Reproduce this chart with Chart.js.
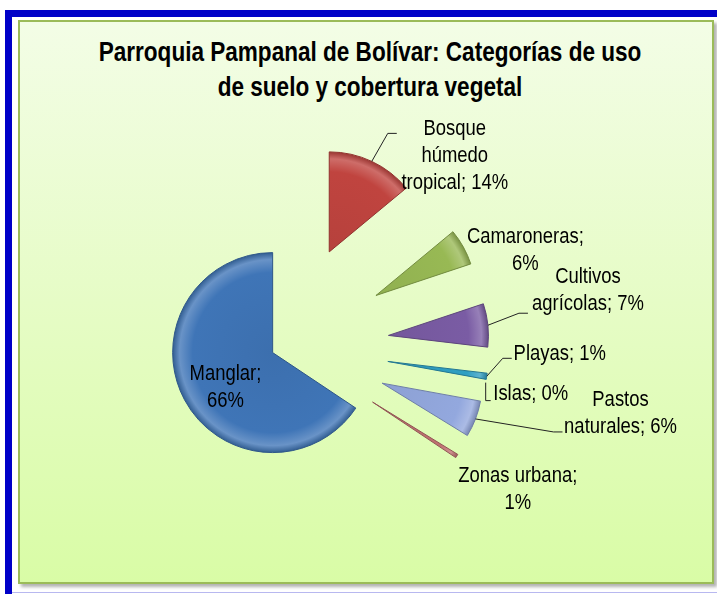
<!DOCTYPE html>
<html>
<head>
<meta charset="utf-8">
<script src="https://cdn.jsdelivr.net/npm/chart.js@4.4.0/dist/chart.umd.min.js"></script>
<style>
  html, body { margin: 0; padding: 0; background: #fff; }
  body { width: 717px; height: 594px; position: relative; overflow: hidden; }
  .blue-top { position: absolute; left: 5px; top: 10px; width: 712px; height: 7px; background: #0000c8; }
  .blue-left { position: absolute; left: 5px; top: 10px; width: 7px; height: 584px; background: #0000c8; }
  .lav-bottom { position: absolute; left: 12px; top: 592px; width: 705px; height: 1px; background: #b8b8f0; }
  .panel {
    position: absolute; left: 18px; top: 20px; width: 692px; height: 560px;
    border: 2px solid #9bbb59;
    background: linear-gradient(to bottom, #f3fde6 0%, #e6fcc6 50%, #d9fca6 100%);
    box-shadow: 3px 3px 3px rgba(0,0,0,0.3);
  }
  .title {
    position: absolute; left: 22px; top: 34px; width: 696px;
    text-align: center; font: bold 27.5px "Liberation Sans", Arial, sans-serif;
    line-height: 35px; color: #000;
    transform: scaleX(0.82); transform-origin: 50% 50%;
  }
  canvas { position: absolute; left: 0; top: 0; }
</style>
</head>
<body>
<div class="blue-top"></div>
<div class="blue-left"></div>
<div class="lav-bottom"></div>
<div class="panel"></div>
<div class="title">Parroquia Pampanal de Bolívar: Categorías de uso<br>de suelo y cobertura vegetal</div>
<canvas id="chart" width="717" height="594"></canvas>
<script>
// land use categories, clockwise from 12 o'clock
const categories = ["Bosque húmedo tropical", "Camaroneras", "Cultivos agrícolas", "Playas", "Islas", "Pastos naturales", "Zonas urbana", "Manglar"];
const shares = [14, 5.9, 7, 1, 0, 5.9, 0.6, 65.7];

const colors = ["#c0443f", "#98b954", "#7a5ca4", "#2f9fc2", "#f79646", "#93a8de", "#c07070", "#3f75b7"];
const explode = [104, 104, 104, 104, 104, 104, 104, 14];

// label placement: shift from the slice's outer mid point, wrap width
const labelShift = [[83, -6], [62, 3], [100, -35], [73, -23], [45, 11], [145, -6], [61, 33], [41, -12]];
const wrapWidth = [118, 122, 122, 200, 200, 122, 130, 85];
// leader lines: end point relative to label centre, elbow direction
const leaders = [
  { end: [-58, -22], elbow: "h" },
  null,
  { end: [-60, 23], elbow: "h" },
  { end: [-48, 5], elbow: "h" },
  { end: [-40, 7], elbow: "v" },
  { end: [-58, 19], elbow: "h" },
  null,
  null
];

// Arial Narrow look: regular face squeezed horizontally
const labelFont = '22.5px "Liberation Sans", Arial, sans-serif';
const narrow = 0.82;
const lineHeight = 27;
const total = shares.reduce((a, b) => a + b, 0);

function shade(hex, amt) {
  const n = parseInt(hex.slice(1), 16);
  let r = n >> 16, g = (n >> 8) & 255, b = n & 255;
  const f = c => amt >= 0 ? Math.round(c + (255 - c) * amt) : Math.round(c * (1 + amt));
  return `rgb(${f(r)},${f(g)},${f(b)})`;
}

function wrap(ctx, text, maxW) {
  const words = text.split(" ");
  const lines = [];
  let cur = "";
  words.forEach(w => {
    const test = cur ? cur + " " + w : w;
    if (cur && ctx.measureText(test).width * narrow > maxW) {
      lines.push(cur);
      cur = w;
    } else {
      cur = test;
    }
  });
  lines.push(cur);
  return lines;
}

const explodePlugin = {
  id: "explode",
  afterDatasetUpdate(chart, args) {
    args.meta.data.forEach((arc, i) => {
      const mid = (arc.startAngle + arc.endAngle) / 2;
      arc.x += Math.cos(mid) * explode[i];
      arc.y += Math.sin(mid) * explode[i];
    });
  },
  beforeDatasetsDraw(chart) {
    const ctx = chart.ctx;
    chart.getDatasetMeta(0).data.forEach((arc, i) => {
      const g = ctx.createRadialGradient(arc.x, arc.y, 0, arc.x, arc.y, arc.outerRadius);
      g.addColorStop(0, shade(colors[i], -0.05));
      g.addColorStop(0.8, colors[i]);
      g.addColorStop(0.93, shade(colors[i], 0.22));
      g.addColorStop(1, shade(colors[i], -0.2));
      arc.options.backgroundColor = g;
    });
  }
};

const labelPlugin = {
  id: "sliceLabels",
  afterDatasetsDraw(chart) {
    const ctx = chart.ctx;
    ctx.save();
    ctx.font = labelFont;
    ctx.fillStyle = "#000";
    ctx.textAlign = "center";
    ctx.textBaseline = "middle";
    chart.getDatasetMeta(0).data.forEach((arc, i) => {
      const mid = (arc.startAngle + arc.endAngle) / 2;
      const px = arc.x + Math.cos(mid) * arc.outerRadius;
      const py = arc.y + Math.sin(mid) * arc.outerRadius;
      const cx = px + labelShift[i][0];
      const cy = py + labelShift[i][1];
      const pct = Math.round(shares[i] / total * 100) + "%";
      const lines = wrap(ctx, categories[i] + "; " + pct, wrapWidth[i]);
      lines.forEach((ln, k) => {
        ctx.save();
        ctx.translate(cx, cy + (k - (lines.length - 1) / 2) * lineHeight);
        ctx.scale(narrow, 1);
        ctx.fillText(ln, 0, 0);
        ctx.restore();
      });
      const ld = leaders[i];
      if (ld) {
        const ex = cx + ld.end[0], ey = cy + ld.end[1];
        ctx.beginPath();
        ctx.strokeStyle = "#222";
        ctx.lineWidth = 1;
        ctx.moveTo(px, py);
        if (ld.elbow === "v") ctx.lineTo(px, ey);
        else ctx.lineTo(ex - 9, ey);
        ctx.lineTo(ex, ey);
        ctx.stroke();
      }
    });
    ctx.restore();
  }
};

new Chart(document.getElementById("chart"), {
  type: "pie",
  data: {
    labels: categories,
    datasets: [{
      data: shares,
      backgroundColor: colors,
      borderColor: colors.map(c => shade(c, -0.25)),
      borderWidth: 1
    }]
  },
  options: {
    responsive: false,
    animation: false,
    events: [],
    radius: 100,
    layout: { padding: { left: 0, right: 147, top: 98, bottom: 0 } },
    plugins: {
      legend: { display: false },
      tooltip: { enabled: false }
    }
  },
  plugins: [explodePlugin, labelPlugin]
});
</script>
</body>
</html>
